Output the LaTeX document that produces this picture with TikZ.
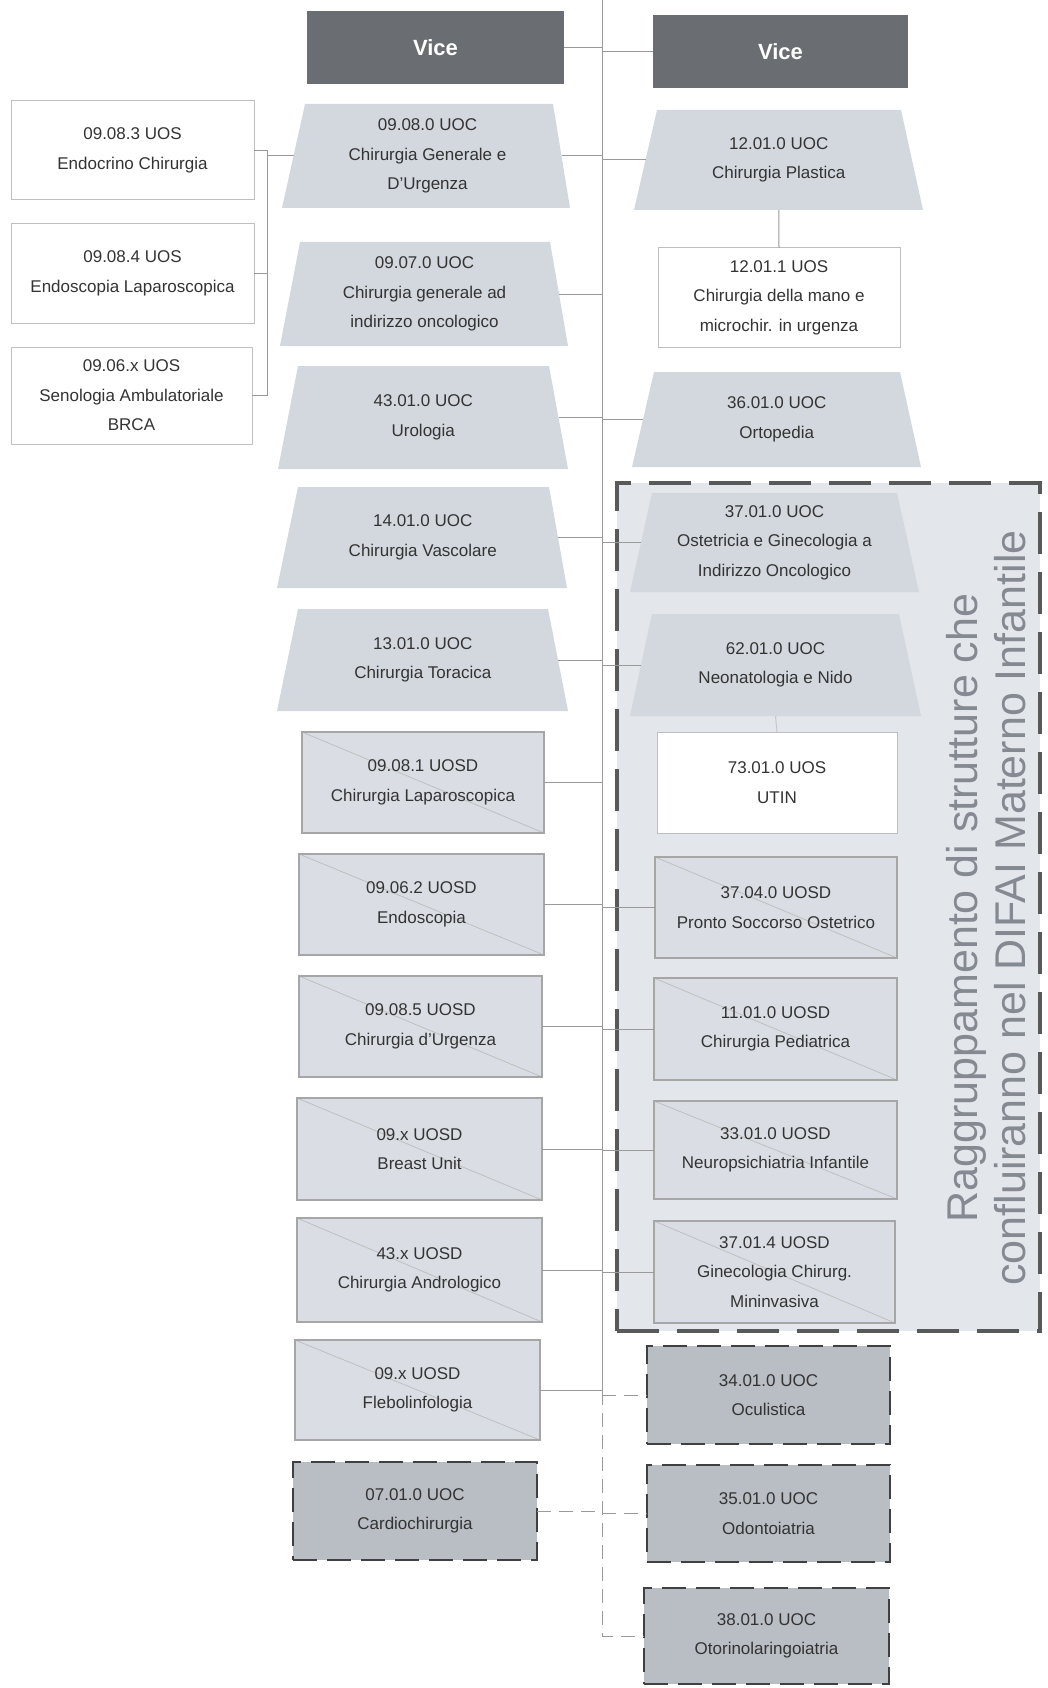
\documentclass[tikz,border=0pt]{standalone}
\usepackage{fontspec}
\setmainfont{Liberation Sans}
\usetikzlibrary{calc}
\definecolor{trapc}{HTML}{D3D8DF}
\definecolor{uosdc}{HTML}{DADEE4}
\definecolor{darkuoc}{HTML}{B9BDC4}
\definecolor{grpc}{HTML}{E3E6EA}
\definecolor{vicec}{HTML}{6A6D72}
\definecolor{txtc}{HTML}{333333}
\definecolor{linec}{HTML}{9A9A9A}
\definecolor{grptxt}{HTML}{858A92}
\tikzset{
 lbl/.style={font=\fontsize{17}{29.5}\selectfont, text=txtc, align=center, inner sep=0pt, outer sep=0pt},
 vicebox/.style={lbl, fill=vicec, text=white, font=\fontsize{22}{26}\selectfont\bfseries},
 uosbox/.style={lbl, fill=white, draw=gray!50, line width=1pt},
 diagline/.style={path picture={\draw[gray!50, line width=0.8pt] (path picture bounding box.north west) -- (path picture bounding box.south east);}},
 uosdbox/.style={lbl, fill=uosdc, draw=gray!70, line width=1.2pt, diagline},
 uocdash/.style={lbl, fill=darkuoc, draw=black!75, line width=2.8pt, dash pattern=on 24pt off 10pt},
 grpbox/.style={fill=grpc, draw=black!65, line width=3.2pt, dash pattern=on 42pt off 18pt, inner sep=0pt},
 conn/.style={draw=linec, line width=1pt},
 conndash/.style={conn, dash pattern=on 14pt off 8pt},
}
\newcommand{\boxat}[7]{\node[#1, minimum width={(#4-#3)*1pt}, minimum height={(#6-#5)*1pt}] (#2) at ({(#3+#4)/2},{(#5+#6)/2}) {#7};}
\newcommand{\trapat}[8]{%
 \fill[trapc] (#2,#6) -- (#3,#6) -- (#5,#7) -- (#4,#7) -- cycle;
 \node[lbl, minimum width={((#3+#5)-(#2+#4))/2*1pt}, minimum height={(#7-#6)*1pt}] (#1) at ({(#2+#3+#4+#5)/4},{(#6+#7)/2}) {#8};}
\begin{document}
\begin{tikzpicture}[x=1pt,y=-1pt]
\useasboundingbox[fill=white] (0,0) rectangle (1048,1688);
% group
\boxat{grpbox}{grp}{617}{1040}{483}{1331}{}
\node[rotate=90, font=\fontsize{43}{48}\selectfont, text=grptxt, align=center, inner sep=0pt] (grplbl) at (986,908) {Raggruppamento di strutture che\\confluiranno nel DIFAI Materno Infantile};
% Vice
\boxat{vicebox}{vl}{307}{564}{11}{84}{Vice}
\boxat{vicebox}{vr}{653}{908}{15}{88}{Vice}
% left UOS
\boxat{uosbox}{u1}{11}{254}{101}{200}{09.08.3 UOS\\Endocrino Chirurgia}
\boxat{uosbox}{u2}{11}{254}{224}{323}{09.08.4 UOS\\Endoscopia Laparoscopica}
\boxat{uosbox}{u3}{11}{252}{347}{444}{09.06.x UOS\\Senologia Ambulatoriale\\BRCA}
% left trapezoids
\trapat{t1}{305}{553}{282}{570}{104}{208}{09.08.0 UOC\\Chirurgia Generale e\\D'Urgenza}
\trapat{t2}{300}{550}{280}{568}{242}{346}{09.07.0 UOC\\Chirurgia generale ad\\indirizzo oncologico}
\trapat{t3}{298}{549}{278}{568}{366}{469}{43.01.0 UOC\\Urologia}
\trapat{t4}{298}{549}{277}{567}{487}{588}{14.01.0 UOC\\Chirurgia Vascolare}
\trapat{t5}{298}{548}{277}{568}{609}{711}{13.01.0 UOC\\Chirurgia Toracica}
% left rects
\boxat{uosdbox}{r6}{302}{544}{732}{833}{09.08.1 UOSD\\Chirurgia Laparoscopica}
\boxat{uosdbox}{r7}{299}{544}{854}{955}{09.06.2 UOSD\\Endoscopia}
\boxat{uosdbox}{r8}{299}{542}{976}{1077}{09.08.5 UOSD\\Chirurgia d'Urgenza}
\boxat{uosdbox}{r9}{297}{542}{1098}{1200}{09.x UOSD\\Breast Unit}
\boxat{uosdbox}{r10}{297}{542}{1218}{1322}{43.x UOSD\\Chirurgia Andrologico}
\boxat{uosdbox}{r11}{295}{540}{1340}{1440}{09.x UOSD\\Flebolinfologia}
\boxat{uocdash}{r12}{293}{537}{1462}{1560}{07.01.0 UOC\\Cardiochirurgia}
% right column
\trapat{p1}{657}{901}{634}{923}{110}{210}{12.01.0 UOC\\Chirurgia Plastica}
\boxat{uosbox}{u121}{658}{900}{248}{347}{12.01.1 UOS\\Chirurgia della mano e\\microchir. in urgenza}
\trapat{p2}{654}{900}{632}{921}{372}{467}{36.01.0 UOC\\Ortopedia}
\trapat{p3}{652}{897}{630}{919}{493}{592}{37.01.0 UOC\\Ostetricia e Ginecologia a\\Indirizzo Oncologico}
\trapat{p4}{652}{899}{630}{921}{614}{716}{62.01.0 UOC\\Neonatologia e Nido}
\boxat{uosbox}{u73}{657}{897}{732}{833}{73.01.0 UOS\\UTIN}
\boxat{uosdbox}{q1}{655}{897}{857}{958}{37.04.0 UOSD\\Pronto Soccorso Ostetrico}
\boxat{uosdbox}{q2}{654}{897}{978}{1080}{11.01.0 UOSD\\Chirurgia Pediatrica}
\boxat{uosdbox}{q3}{654}{897}{1101}{1199}{33.01.0 UOSD\\Neuropsichiatria Infantile}
\boxat{uosdbox}{q4}{654}{895}{1221}{1323}{37.01.4 UOSD\\Ginecologia Chirurg.\\Mininvasiva}
\boxat{uocdash}{d34}{647}{890}{1346}{1444}{34.01.0 UOC\\Oculistica}
\boxat{uocdash}{d35}{647}{890}{1465}{1562}{35.01.0 UOC\\Odontoiatria}
\boxat{uocdash}{d38}{644}{889}{1588}{1684}{38.01.0 UOC\\Otorinolaringoiatria}
% spine
\coordinate (sp) at (602,0);
\coordinate (spmid) at (602,1391);
\draw[conn] (sp) -- (spmid);
\draw[conndash] (spmid) -- (d38.west -| sp) -- (d38.west);
% Vice
\draw[conn] (vl.east) -- (vl.east -| sp);
\draw[conn] (vr.west -| sp) -- (vr.west);
% left bus
\coordinate (bus) at (267,0);
\draw[conn] (u1.east) -- (u1.east -| bus) -- (u3.east -| bus) -- (u3.east);
\draw[conn] (u2.east) -- (u2.east -| bus);
\draw[conn] (t1.west -| bus) -- (t1.west);
% left to spine
\foreach \n in {t1,t2,t3,t4,t5,r6,r7,r8,r9,r10,r11}{\draw[conn] (\n.east) -- (\n.east -| sp);}
\draw[conndash] (r12.east) -- (r12.east -| sp);
% spine to right
\foreach \n in {p1,p2,p3,p4,q1,q2,q3,q4}{\draw[conn] (\n.west -| sp) -- (\n.west);}
\draw[conndash] (d34.west -| sp) -- (d34.west);
\draw[conndash] (d35.west -| sp) -- (d35.west);
% vertical sub links
\draw[conn] (p1.south) -- (u121.north);
\draw[conn, draw=gray!45] (p4.south) -- (u73.north);
\end{tikzpicture}
\end{document}
